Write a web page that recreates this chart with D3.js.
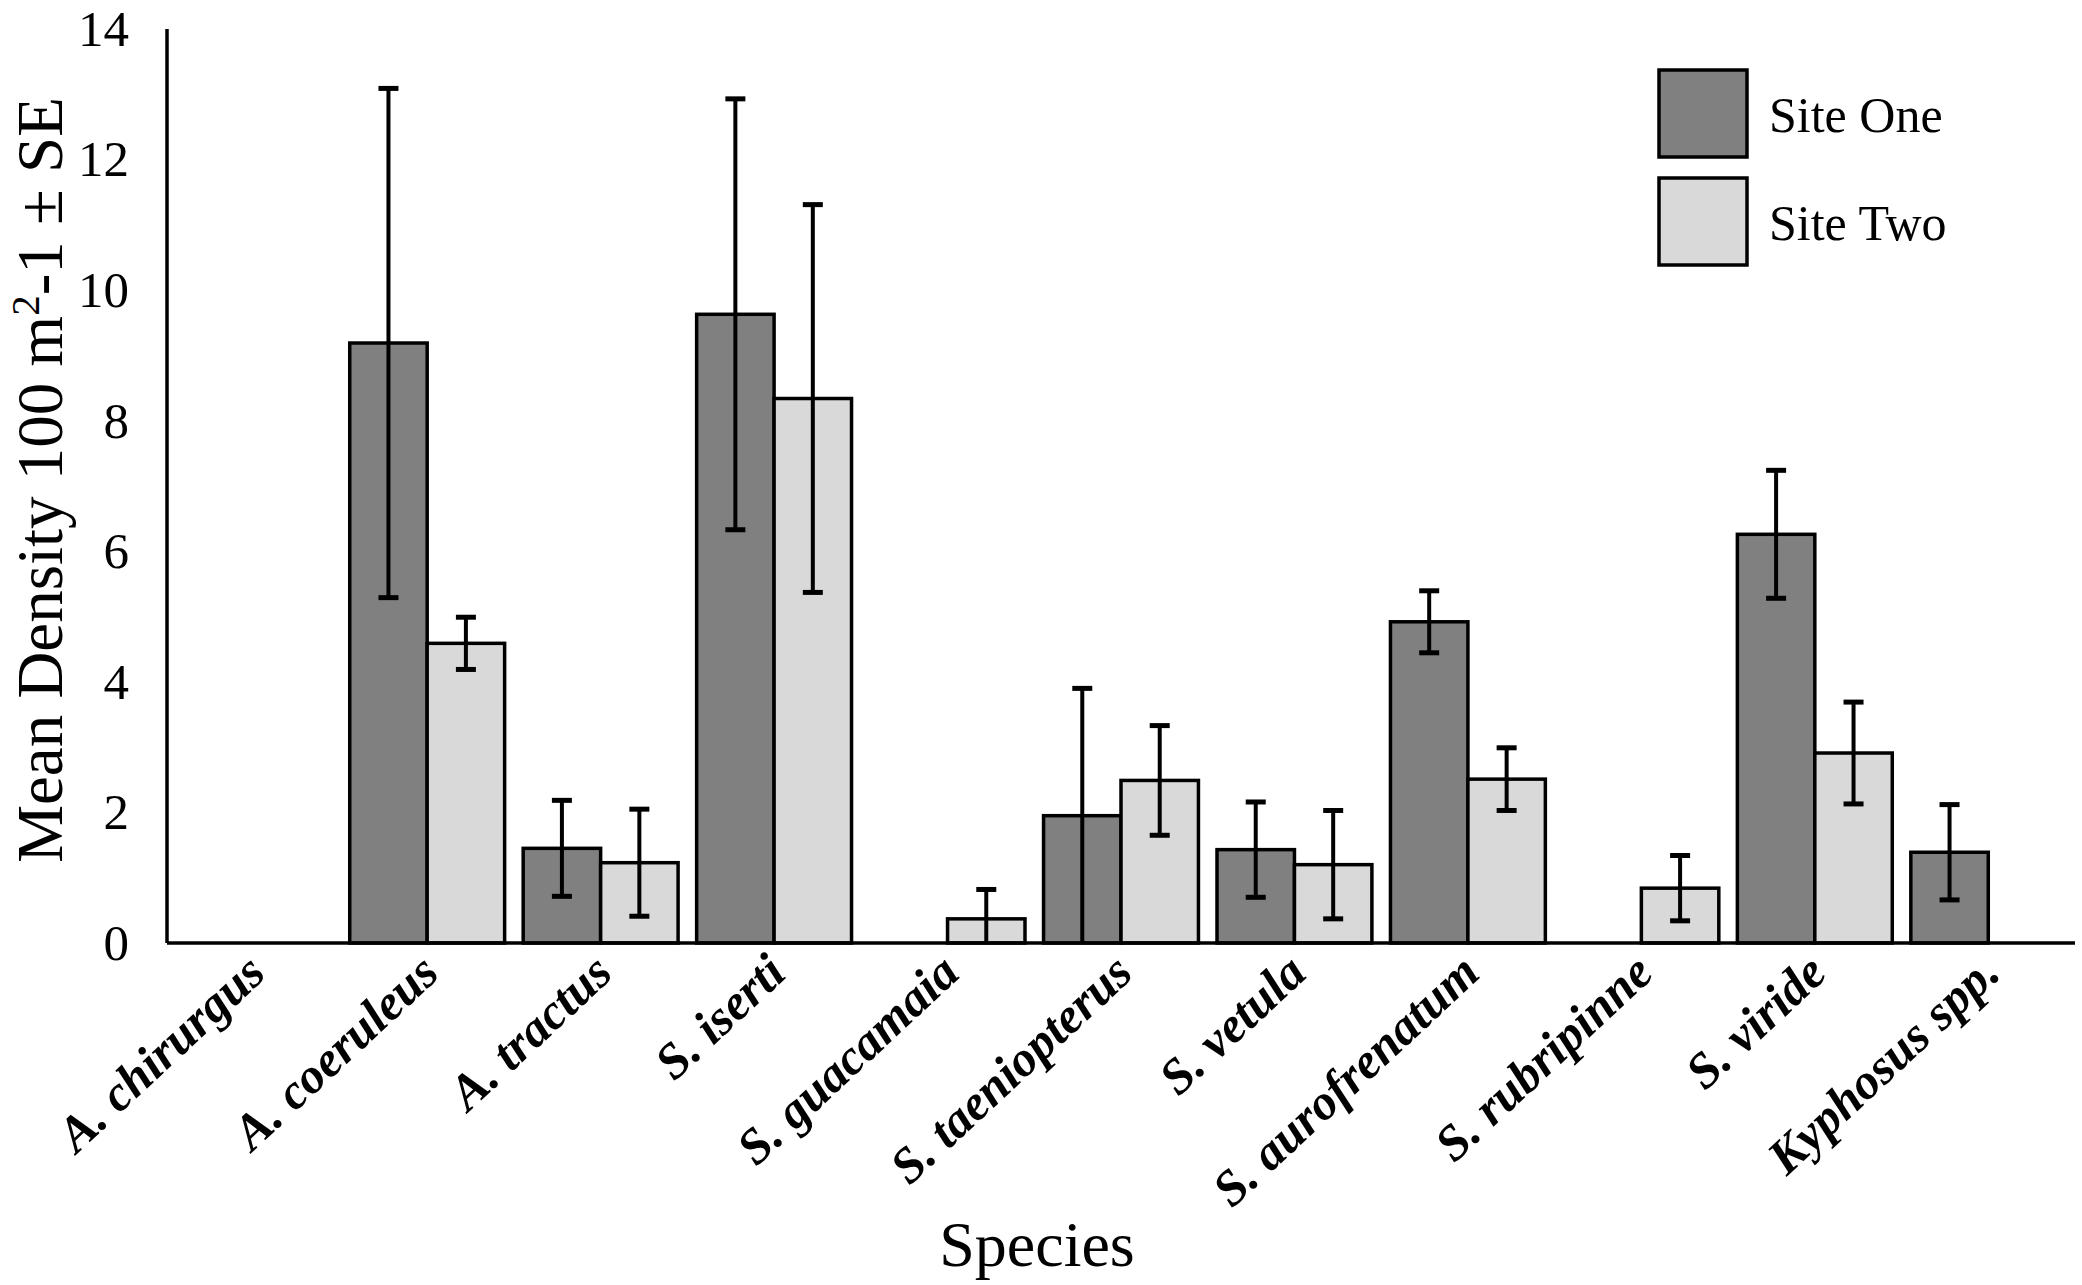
<!DOCTYPE html>
<html>
<head>
<meta charset="utf-8">
<script src="https://cdn.jsdelivr.net/npm/d3@7"></script>
<style>
  html, body { margin: 0; padding: 0; background: #fff; }
  svg { display: block; }
</style>
</head>
<body>
<svg id="chart" width="2082" height="1285"></svg>
<script>
// ---- data ----
const categories = ["A. chirurgus", "A. coeruleus", "A. tractus", "S. iserti", "S. guacamaia",
  "S. taeniopterus", "S. vetula", "S. aurofrenatum", "S. rubripinne", "S. viride", "Kyphosus spp."];
const seriesNames = ["Site One", "Site Two"];
const siteOne   = [0, 9.19, 1.45, 9.63, 0, 1.95, 1.43, 4.92, 0, 6.26, 1.39];
const siteOneSE = [0, 3.90, 0.735, 3.30, 0, 1.95, 0.73, 0.475, 0, 0.98, 0.73];
const siteTwo   = [0, 4.59, 1.23, 8.34, 0.37, 2.49, 1.20, 2.51, 0.84, 2.91, 0];
const siteTwoSE = [0, 0.40, 0.82, 2.97, 0.45, 0.84, 0.83, 0.48, 0.50, 0.78, 0];
const yTicks = [0, 2, 4, 6, 8, 10, 12, 14];

const seriesValues = [siteOne, siteTwo];
const seriesSE = [siteOneSE, siteTwoSE];
const colors = ["#808080", "#d9d9d9"];

(function () {
const svg = d3.select("#chart");
const pLeft = 167, pRight = 2075, pTop = 29, pBottom = 943;
const serif = "'Liberation Serif', 'Times New Roman', serif";

const x = d3.scaleBand().domain(categories).range([pLeft, pRight]).paddingInner(0.107).paddingOuter(0.0535);
const xs = d3.scaleBand().domain([0, 1]).range([0, x.bandwidth()]);
const y = d3.scaleLinear().domain([0, 14]).range([pBottom, pTop]);

const rows = [];
categories.forEach((c, i) => {
  [0, 1].forEach(s => rows.push({ c, s, v: seriesValues[s][i], se: seriesSE[s][i] }));
});

svg.append("g").selectAll("rect").data(rows.filter(d => d.v > 0)).join("rect")
  .attr("x", d => x(d.c) + xs(d.s))
  .attr("y", d => y(d.v))
  .attr("width", xs.bandwidth())
  .attr("height", d => y(0) - y(d.v))
  .attr("fill", d => colors[d.s])
  .attr("stroke", "#000")
  .attr("stroke-width", 3.5);

const eg = svg.append("g").attr("stroke", "#000").attr("stroke-width", 4);
rows.filter(d => d.v > 0 && d.se > 0).forEach(d => {
  const cx = x(d.c) + xs(d.s) + xs.bandwidth() / 2;
  const hi = d.v + d.se, lo = Math.max(0, d.v - d.se);
  eg.append("line").attr("x1", cx).attr("x2", cx).attr("y1", y(hi)).attr("y2", y(lo));
  eg.append("line").attr("x1", cx - 10).attr("x2", cx + 10).attr("y1", y(hi)).attr("y2", y(hi)).attr("stroke-width", 5);
  if (d.v - d.se > 0) {
    eg.append("line").attr("x1", cx - 10).attr("x2", cx + 10).attr("y1", y(lo)).attr("y2", y(lo)).attr("stroke-width", 5);
  }
});

const yAxis = d3.axisLeft(y).tickValues(yTicks).tickSize(0).tickPadding(38).tickFormat(d3.format("d"));
const gy = svg.append("g").attr("transform", `translate(${pLeft},0)`).call(yAxis);
gy.select(".domain").attr("stroke", "#000").attr("stroke-width", 3.5).attr("d", `M0,${pTop}V${pBottom}`);
gy.selectAll("text").attr("font-family", serif).attr("font-size", 51).attr("fill", "#000");

const xAxis = d3.axisBottom(x).tickSize(0).tickFormat("");
const gx = svg.append("g").attr("transform", `translate(0,${pBottom})`).call(xAxis);
gx.select(".domain").attr("stroke", "#000").attr("stroke-width", 3.5).attr("d", `M${pLeft},0H${pRight}`);

svg.append("g").selectAll("text").data(categories).join("text")
  .attr("transform", d => `translate(${x(d) + x.bandwidth() / 2 + 14},${976}) rotate(-43)`)
  .attr("text-anchor", "end")
  .attr("font-family", serif)
  .attr("font-size", 50)
  .attr("font-weight", "bold")
  .attr("font-style", "italic")
  .attr("fill", "#000")
  .text(d => d);

const yt = svg.append("text")
  .attr("transform", `translate(62,480) rotate(-90)`)
  .attr("text-anchor", "middle")
  .attr("font-family", serif)
  .attr("font-size", 65)
  .attr("fill", "#000");
yt.append("tspan").text("Mean Density 100 m");
yt.append("tspan").attr("baseline-shift", "super").attr("font-size", 41).text("2");
yt.append("tspan").text("-1 ± SE");

svg.append("text")
  .attr("x", 1037).attr("y", 1266)
  .attr("text-anchor", "middle")
  .attr("font-family", serif)
  .attr("font-size", 64)
  .attr("fill", "#000")
  .text("Species");

const lg = svg.append("g");
seriesNames.forEach((name, i) => {
  const yy = 70 + i * 108;
  lg.append("rect").attr("x", 1659).attr("y", yy).attr("width", 88).attr("height", 87)
    .attr("fill", colors[i]).attr("stroke", "#000").attr("stroke-width", 3.5);
  lg.append("text").attr("x", 1769).attr("y", yy + 62)
    .attr("font-family", serif).attr("font-size", 50).attr("fill", "#000").text(name);
});
})();
</script>
</body>
</html>
